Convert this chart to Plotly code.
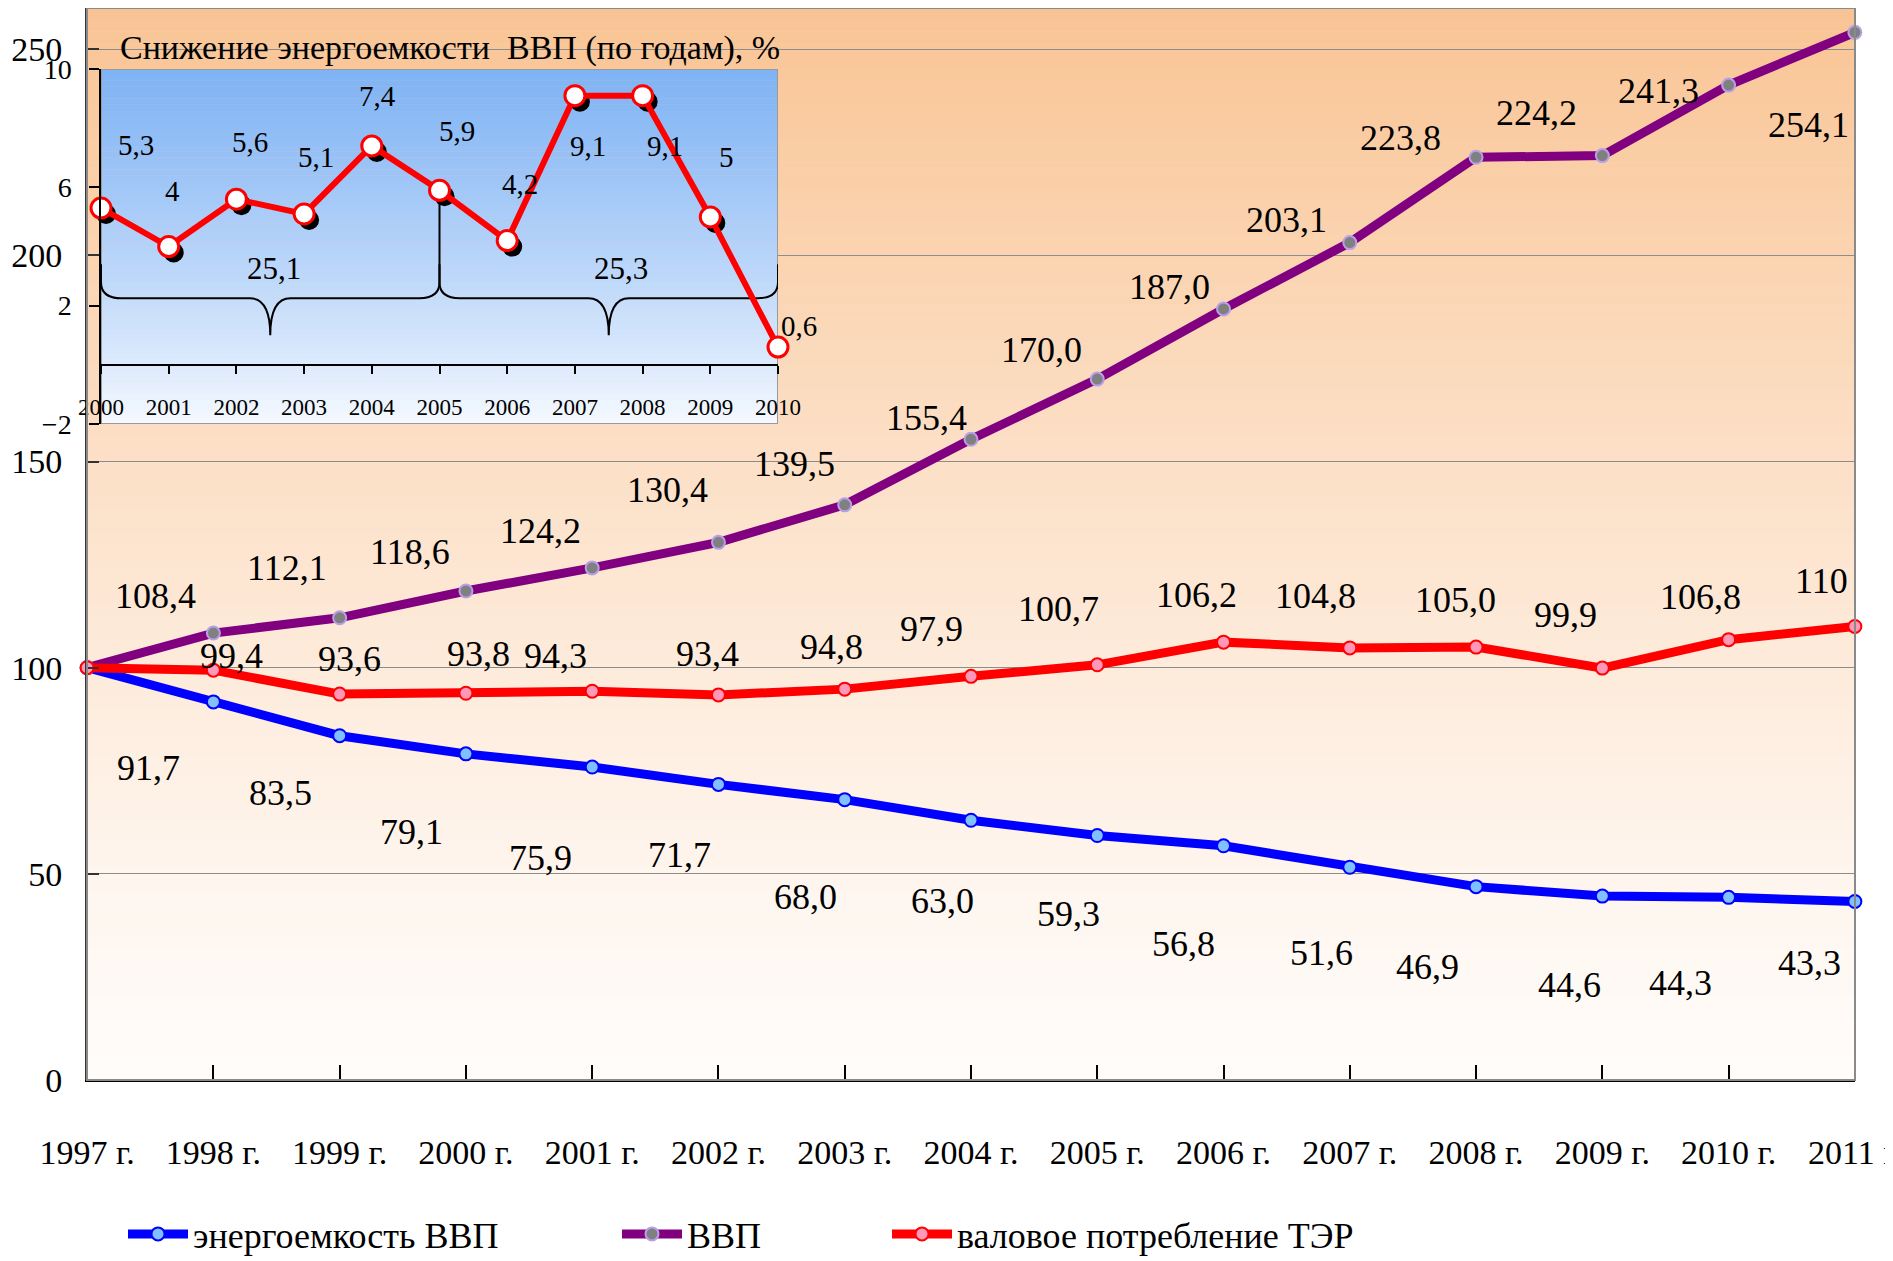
import plotly.graph_objects as go

# ---------------- data ----------------
years = list(range(1997, 2012))
year_labels = ["1997 г.", "1998 г.", "1999 г.", "2000 г.", "2001 г.", "2002 г.", "2003 г.", "2004 г.",
               "2005 г.", "2006 г.", "2007 г.", "2008 г.", "2009 г.", "2010 г.", "2011 г."]

energy_intensity = [100, 91.7, 83.5, 79.1, 75.9, 71.7, 68.0, 63.0, 59.3, 56.8, 51.6, 46.9, 44.6, 44.3, 43.3]
energy_intensity_text = ["", "91,7", "83,5", "79,1", "75,9", "71,7", "68,0", "63,0", "59,3", "56,8",
                         "51,6", "46,9", "44,6", "44,3", "43,3"]

gdp = [100, 108.4, 112.1, 118.6, 124.2, 130.4, 139.5, 155.4, 170.0, 187.0, 203.1, 223.8, 224.2, 241.3, 254.1]
gdp_text = ["", "108,4", "112,1", "118,6", "124,2", "130,4", "139,5", "155,4", "170,0", "187,0",
            "203,1", "223,8", "224,2", "241,3", "254,1"]

consumption = [100, 99.4, 93.6, 93.8, 94.3, 93.4, 94.8, 97.9, 100.7, 106.2, 104.8, 105.0, 99.9, 106.8, 110]
consumption_text = ["", "99,4", "93,6", "93,8", "94,3", "93,4", "94,8", "97,9", "100,7", "106,2",
                    "104,8", "105,0", "99,9", "106,8", "110"]

series_names = ["энергоемкость ВВП", "ВВП", "валовое потребление ТЭР"]

inset_title = "Снижение энергоемкости  ВВП (по годам), %"
inset_years = list(range(2000, 2011))
inset_decline = [5.3, 4.0, 5.6, 5.1, 7.4, 5.9, 4.2, 9.1, 9.1, 5.0, 0.6]
inset_text = ["5,3", "4", "5,6", "5,1", "7,4", "5,9", "4,2", "9,1", "9,1", "5", "0,6"]

period_start = [2000, 2005]
period_end = [2005, 2010]
period_total = ["25,1", "25,3"]

main_yticks = [0, 50, 100, 150, 200, 250]
inset_yticks = [-2, 2, 6, 10]

# ---------------- style / layout constants ----------------
OFF = 8                       # page body margin of the rendered html
W, H = 1893 - OFF, 1261 - OFF
ML, MR, MT, MB = 79, 38, 0, 181
PW, PH = W - ML - MR, H - MT - MB
FONT = "Liberation Serif, Times New Roman, serif"

blue_dx = [0, -65, -59, -54, -52, -39, -39, -29, -29, -40, -28, -49, -33, -48, -45]
blue_dy = [0, -66, -57, -78, -91, -71, -97, -81, -78, -98, -86, -80, -89, -86, -62]
purple_dx = [0, -58, -53, -56, -52, -51, -50, -45, -56, -54, -63, -76, -66, -70, -46]
purple_dy = [0, 37, 50, 39, 37, 52, 41, 21, 29, 22, 23, 19, 43, -6, -93]
red_dx = [0, 18, 10, 13, -37, -11, -13, -40, -39, -27, -34, -21, -37, -28, -33]
red_dy = [0, 14, 35, 39, 35, 41, 42, 47, 56, 47, 52, 47, 53, 43, 45]

inset_dx = [35, 4, 14, 12, 6, 17, 13, 13, 22, 16, 21]
inset_dy = [63, 56, 57, 57, 50, 59, 57, -50, -50, 60, 21]


def px_to_paper_x(px):          # screen px -> paper fraction
    return (px - OFF - ML) / PW


def px_to_paper_y(py):
    return (H - MB - (py - OFF)) / PH


def px_to_cont_x(px):           # screen px -> container fraction
    return (px - OFF) / W


def px_to_cont_y(py):
    return (H - (py - OFF)) / H


def mix(c1, c2, t):
    return "rgb(%d,%d,%d)" % tuple(round(a + (b - a) * t) for a, b in zip(c1, c2))


EPS = 1e-3
main_xr = [years[0] - EPS, years[-1] + EPS]
main_yr = [0, 260]

inset_dom_x = [px_to_paper_x(101), px_to_paper_x(778)]
inset_dom_y = [px_to_paper_y(424), px_to_paper_y(69)]
inset_xr = [inset_years[0], inset_years[-1]]
inset_yr = [-2, 10]
px_per_x = (778 - 101) / (inset_xr[1] - inset_xr[0])
px_per_y = (424 - 69) / (inset_yr[1] - inset_yr[0])
SHX, SHY = 5, 6   # shadow offset in px
sx, sy = SHX / px_per_x, SHY / px_per_y
shadow_xr = [inset_xr[0] - sx, inset_xr[1] - sx]
shadow_yr = [inset_yr[0] + sy, inset_yr[1] + sy]
inset_zero_paper = inset_dom_y[0] + (0 - inset_yr[0]) / (inset_yr[1] - inset_yr[0]) * (inset_dom_y[1] - inset_dom_y[0])


def bx(v):  # inset x value -> base (x2) coordinate
    return v - sx


def by(v):  # inset y value -> base (y2) coordinate
    return v + sy


fig = go.Figure()

# ---------------- main traces ----------------
main_series = [
    (energy_intensity, series_names[0], "#0000FF", "#80C0FF", "#0000FF", "legend"),
    (gdp, series_names[1], "#800080", "#808080", "#B8A0E8", "legend2"),
    (consumption, series_names[2], "#FF0000", "#FF98B8", "#FF0000", "legend3"),
]
for vals, name, lc, mfill, mline, lg in main_series:
    fig.add_trace(go.Scatter(
        x=years, y=vals, name=name, mode="lines+markers", legend=lg,
        line=dict(color=lc, width=9),
        marker=dict(size=13, color=mfill, line=dict(color=mline, width=2)),
        cliponaxis=False, xaxis="x", yaxis="y",
    ))

# ---------------- inset traces ----------------
fig.add_trace(go.Scatter(
    x=inset_years, y=inset_decline, mode="markers", showlegend=False,
    marker=dict(size=20, color="black"), cliponaxis=False,
    xaxis="x2", yaxis="y2", hoverinfo="skip",
))
fig.add_trace(go.Scatter(
    x=inset_years, y=inset_decline, mode="lines+markers", showlegend=False,
    line=dict(color="#FF0000", width=6),
    marker=dict(size=20, color="white", line=dict(color="#FF0000", width=3)),
    cliponaxis=False, xaxis="x3", yaxis="y3",
))

shapes = []
# main plot gradient background
N = 90
top_c, bot_c = (249, 196, 148), (255, 252, 250)
step = (main_yr[1] - main_yr[0]) / N
for i in range(N):
    y0 = main_yr[0] + i * step
    t = (i + 0.5) / N
    shapes.append(dict(type="rect", xref="x", yref="y", layer="below",
                       x0=main_xr[0], x1=main_xr[1], y0=y0, y1=y0 + step * 1.05,
                       fillcolor=mix(bot_c, top_c, t ** 1.25), line=dict(width=0)))
# inset gradient background
NI = 60
itop, ibot = (126, 178, 244), (247, 250, 255)
istep = (shadow_yr[1] - shadow_yr[0]) / NI
for i in range(NI):
    y0 = shadow_yr[0] + i * istep
    t = (i + 0.5) / NI
    shapes.append(dict(type="rect", xref="x2", yref="y2", layer="below",
                       x0=shadow_xr[0], x1=shadow_xr[1], y0=y0, y1=y0 + istep * 1.05,
                       fillcolor=mix(ibot, itop, t ** 0.85), line=dict(width=0)))
shapes.append(dict(type="rect", xref="x2", yref="y2", layer="below",
                   x0=shadow_xr[0], x1=shadow_xr[1], y0=shadow_yr[0], y1=shadow_yr[1],
                   line=dict(color="#9A9A9A", width=2), fillcolor="rgba(0,0,0,0)"))

# braces (drawn on the base inset subplot, converted to its coordinates)
brace_line_y, brace_tip_y, brace_rx, brace_ry = 2.25, 1.0, 0.3, 0.55
brace_left_top = [3.4, 3.4]
brace_right_top = [5.8, 3.4]
for k in range(len(period_start)):
    x0, x1 = period_start[k], period_end[k]
    xm = (x0 + x1) / 2
    yb = brace_line_y
    pts = [
        ("M", [(x0, brace_left_top[k])]),
        ("L", [(x0, yb + brace_ry)]),
        ("Q", [(x0, yb), (x0 + brace_rx, yb)]),
        ("L", [(xm - brace_rx, yb)]),
        ("Q", [(xm, yb), (xm, brace_tip_y)]),
        ("Q", [(xm, yb), (xm + brace_rx, yb)]),
        ("L", [(x1 - brace_rx, yb)]),
        ("Q", [(x1, yb), (x1, yb + brace_ry)]),
        ("L", [(x1, brace_right_top[k])]),
    ]
    path = " ".join(cmd + " " + " ".join(f"{bx(a):.5f},{by(b):.5f}" for a, b in p) for cmd, p in pts)
    shapes.append(dict(type="path", xref="x2", yref="y2", layer="between", path=path,
                       line=dict(color="black", width=2)))

# main plot border (top/right in grey)
shapes.append(dict(type="rect", xref="paper", yref="paper", layer="above",
                   x0=0, x1=1, y0=0, y1=1, line=dict(color="#8A8A8A", width=2)))

annotations = []
lab_font = dict(family=FONT, size=36, color="black")
for vals, texts, dxs, dys in [(energy_intensity, energy_intensity_text, blue_dx, blue_dy),
                              (gdp, gdp_text, purple_dx, purple_dy),
                              (consumption, consumption_text, red_dx, red_dy)]:
    for x, v, t, dx, dy in zip(years, vals, texts, dxs, dys):
        if t:
            annotations.append(dict(x=x, y=v, xref="x", yref="y", text=t, showarrow=False,
                                    xshift=dx, yshift=dy, font=lab_font))

ins_font = dict(family=FONT, size=29, color="black")
for x, v, t, dx, dy in zip(inset_years, inset_decline, inset_text, inset_dx, inset_dy):
    annotations.append(dict(x=x, y=v, xref="x3", yref="y3", text=t, showarrow=False,
                            xshift=dx, yshift=dy, font=ins_font))
for k in range(len(period_start)):
    annotations.append(dict(x=(period_start[k] + period_end[k]) / 2, y=brace_line_y, xref="x3", yref="y3",
                            text=period_total[k], showarrow=False, yshift=30, xshift=4 if k == 0 else 12,
                            font=dict(family=FONT, size=31, color="black")))
annotations.append(dict(x=px_to_paper_x(450), y=px_to_paper_y(48), xref="paper", yref="paper",
                        text=inset_title, showarrow=False, xanchor="center", yanchor="middle",
                        font=dict(family=FONT, size=34, color="black")))

legend_common = dict(orientation="h", yanchor="middle", xanchor="left",
                     xref="container", yref="container", y=px_to_cont_y(1234),
                     bgcolor="rgba(0,0,0,0)", font=dict(family=FONT, size=36, color="black"),
                     itemwidth=60)

fig.update_layout(
    width=W, height=H,
    margin=dict(l=ML, r=MR, t=MT, b=MB, autoexpand=False),
    paper_bgcolor="white", plot_bgcolor="rgba(0,0,0,0)",
    font=dict(family=FONT, color="black"),
    showlegend=True,
    legend=dict(x=px_to_cont_x(123), **legend_common),
    legend2=dict(x=px_to_cont_x(617), **legend_common),
    legend3=dict(x=px_to_cont_x(887), **legend_common),
    xaxis=dict(range=main_xr, tickvals=years, ticktext=year_labels, showgrid=False, zeroline=False,
               ticks="inside", ticklen=15, tickwidth=1.5, tickcolor="black",
               showline=True, linecolor="black", linewidth=2, ticklabeloverflow="allow",
               tickfont=dict(family=FONT, size=34, color="black"), ticklabelstandoff=41),
    yaxis=dict(range=main_yr, tickvals=main_yticks, showgrid=True, gridcolor="#8C8C8C", gridwidth=1,
               zeroline=False, ticks="inside", ticklen=12, tickwidth=1.5, tickcolor="#333333",
               showline=True, linecolor="#333333", linewidth=2,
               tickfont=dict(family=FONT, size=34, color="black"), ticklabelstandoff=16),
    xaxis2=dict(domain=inset_dom_x, range=shadow_xr, anchor="y2", visible=False),
    yaxis2=dict(domain=inset_dom_y, range=shadow_yr, anchor="x2", visible=False),
    xaxis3=dict(overlaying="x2", range=inset_xr, anchor="free", position=inset_zero_paper,
                tickvals=inset_years, showgrid=False, zeroline=False,
                ticks="outside", ticklen=8, tickwidth=1.5, tickcolor="black",
                showline=True, linecolor="black", linewidth=1.5,
                tickfont=dict(family=FONT, size=23, color="black"), ticklabelstandoff=14),
    yaxis3=dict(overlaying="y2", range=inset_yr, anchor="x3", side="left",
                tickvals=inset_yticks, showgrid=False, zeroline=False,
                ticks="outside", ticklen=10, tickwidth=1.5, tickcolor="black",
                showline=True, linecolor="black", linewidth=1.5,
                tickfont=dict(family=FONT, size=28, color="black"), ticklabelstandoff=12),
    shapes=shapes,
    annotations=annotations,
)

fig.write_html("out.html")
